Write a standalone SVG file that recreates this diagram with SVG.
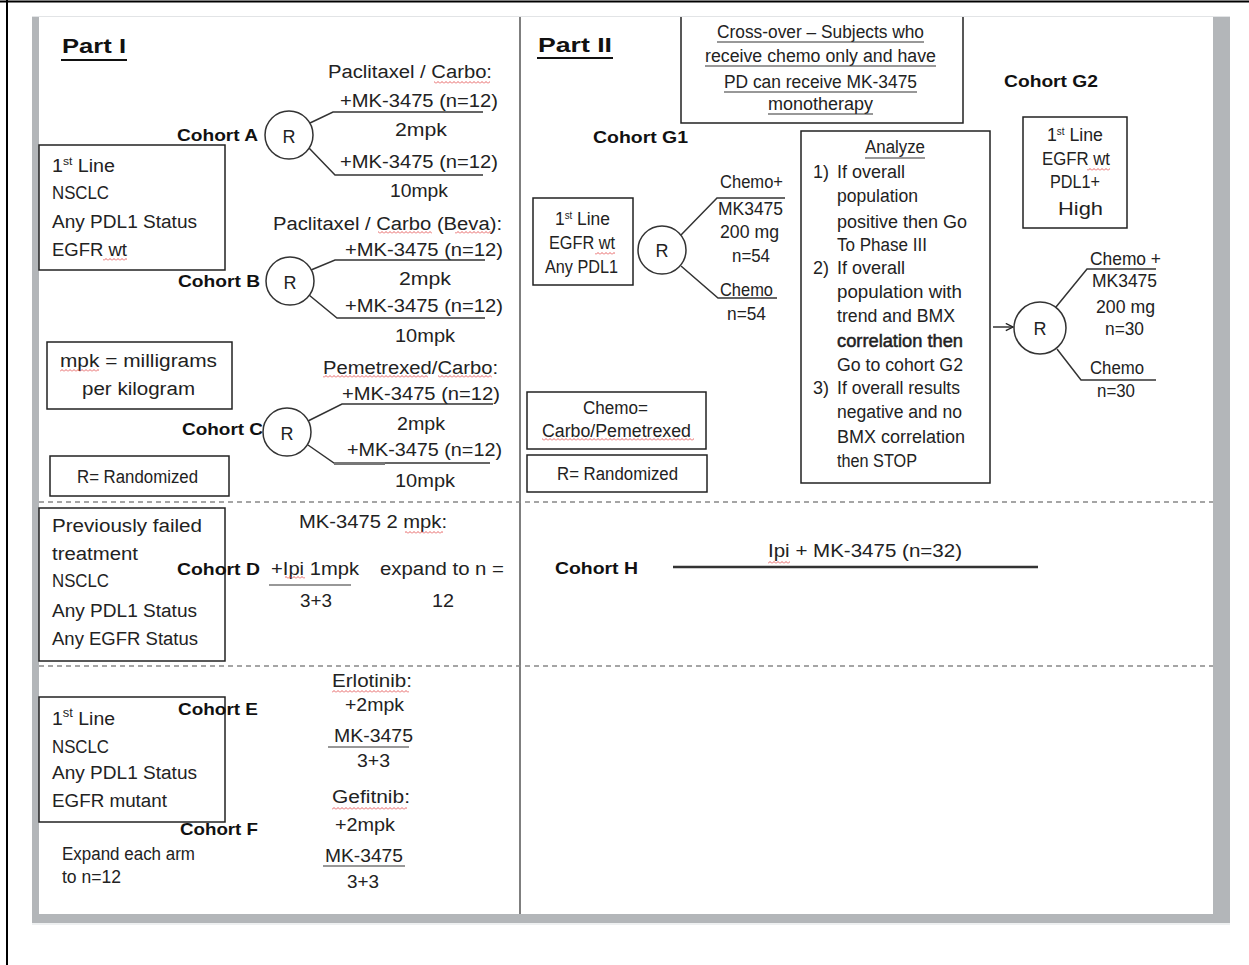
<svg xmlns="http://www.w3.org/2000/svg" width="1249" height="965" viewBox="0 0 1249 965">
<style>
.t{font-family:"Liberation Sans",Arial,sans-serif;font-size:18px;fill:#222}
.b{font-weight:bold;font-size:17px;fill:#111}
.h{font-weight:bold;font-size:21px;fill:#111}
.c{text-anchor:middle}
.ln{stroke:#333;stroke-width:1.5;fill:none}
.ul{stroke:#333;stroke-width:1.2;fill:none}
.box{fill:#fff;stroke:#222;stroke-width:1.5}
.rc{fill:#fff;stroke:#333;stroke-width:1.5}
.wv{fill:url(#wave)}
.dash{stroke:#888;stroke-width:1.5;stroke-dasharray:5 4;fill:none}
</style>
<defs>
<pattern id="wave" width="4" height="3" patternUnits="userSpaceOnUse"><path d="M0,2.5 L2,0.5 L4,2.5" fill="none" stroke="#e03a3a" stroke-width="0.8"/></pattern>
<marker id="arr" viewBox="0 0 10 10" refX="9" refY="5" markerWidth="9" markerHeight="9" orient="auto" markerUnits="userSpaceOnUse"><path d="M1,1 L9,5 L1,9" fill="none" stroke="#222" stroke-width="1.5"/></marker>
</defs>
<rect width="1249" height="965" fill="#fff"/>
<g id="frame">
<line x1="0" y1="1.5" x2="1249" y2="1.5" stroke="#000" stroke-width="2"/>
<line x1="7" y1="0" x2="7" y2="965" stroke="#000" stroke-width="2"/>
<rect x="32" y="16" width="1198" height="909" fill="#eef0f1"/>
<rect x="32" y="16" width="1198" height="907" fill="#b3b6b9"/>
<rect x="39" y="17" width="1174" height="897" fill="#fff"/>
<line x1="32" y1="16.5" x2="1230" y2="16.5" stroke="#e2e4e6" stroke-width="1"/>
<line x1="520" y1="17" x2="520" y2="914" stroke="#555" stroke-width="1.5"/>
<line class="dash" x1="39" y1="502" x2="1213" y2="502"/>
<line class="dash" x1="39" y1="666" x2="1213" y2="666"/>
</g>
<g id="connectors">
<polyline class="ln" points="310,123 333,112 483,112"/>
<polyline class="ln" points="309,148 335,175 483,175"/>
<polyline class="ln" points="311,270 335,260 485,260"/>
<polyline class="ln" points="309,295 337,318 485,318"/>
<polyline class="ln" points="308,421 342,404 493,404"/>
<polyline class="ln" points="308,445 334,463 490,463"/>
<line x1="334" y1="463.5" x2="385" y2="463.5" stroke="#777" stroke-width="3"/>
<polyline class="ln" points="681,235 717,198 785,198"/>
<polyline class="ln" points="681,266 718,298 777,298"/>
<line class="ln" x1="993" y1="327" x2="1013" y2="327" marker-end="url(#arr)"/>
<polyline class="ln" points="1056,307 1087,269 1156,269"/>
<polyline class="ln" points="1057,349 1081,380 1156,380"/>
<line x1="673" y1="567" x2="1038" y2="567" stroke="#333" stroke-width="2.5"/>
<line class="ul" x1="269" y1="585" x2="351" y2="585"/>
<line class="ul" x1="328" y1="747" x2="409" y2="747"/>
<line class="ul" x1="323" y1="866" x2="405" y2="866"/>
</g>
<g id="part1-title">
<text class="t h" x="62" y="53" textLength="64" lengthAdjust="spacingAndGlyphs">Part I</text>
<line x1="61" y1="60" x2="127" y2="60" stroke="#111" stroke-width="1.8"/>
</g>
<g id="cohortA">
<text class="t" x="328" y="78" textLength="164" lengthAdjust="spacingAndGlyphs">Paclitaxel / Carbo:</text>
<rect class="wv" x="434" y="81" width="56" height="3"/>
<text class="t" x="340" y="107" textLength="158" lengthAdjust="spacingAndGlyphs">+MK-3475  (n=12)</text>
<text class="t" x="395" y="136" textLength="52" lengthAdjust="spacingAndGlyphs">2mpk</text>
<text class="t" x="340" y="168" textLength="158" lengthAdjust="spacingAndGlyphs">+MK-3475  (n=12)</text>
<text class="t" x="390" y="197" textLength="58" lengthAdjust="spacingAndGlyphs">10mpk</text>
<text class="t b" x="177" y="141" textLength="81" lengthAdjust="spacingAndGlyphs">Cohort A</text>
<circle class="rc" cx="289" cy="135" r="24"/>
<text class="t" x="289" y="143" text-anchor="middle" font-size="22">R</text>
</g>
<g id="boxA">
<rect class="box" x="39" y="145" width="186" height="125"/>
<text class="t" x="52" y="172" textLength="63" lengthAdjust="spacingAndGlyphs">1<tspan font-size="11" dy="-7">st</tspan><tspan dy="7"> Line</tspan></text>
<text class="t" x="52" y="199" textLength="57" lengthAdjust="spacingAndGlyphs">NSCLC</text>
<text class="t" x="52" y="228" textLength="145" lengthAdjust="spacingAndGlyphs">Any PDL1 Status</text>
<text class="t" x="52" y="256" textLength="75" lengthAdjust="spacingAndGlyphs">EGFR wt</text>
<rect class="wv" x="103" y="258" width="24" height="3"/>
</g>
<g id="cohortB">
<text class="t" x="273" y="230" textLength="229" lengthAdjust="spacingAndGlyphs">Paclitaxel / Carbo (Beva):</text>
<rect class="wv" x="378" y="231" width="54" height="3"/>
<rect class="wv" x="455" y="231" width="37" height="3"/>
<text class="t" x="345" y="256" textLength="158" lengthAdjust="spacingAndGlyphs">+MK-3475  (n=12)</text>
<text class="t" x="399" y="285" textLength="52" lengthAdjust="spacingAndGlyphs">2mpk</text>
<text class="t" x="345" y="312" textLength="158" lengthAdjust="spacingAndGlyphs">+MK-3475  (n=12)</text>
<text class="t" x="395" y="342" font-size="20" textLength="60" lengthAdjust="spacingAndGlyphs">10mpk</text>
<text class="t b" x="178" y="287" textLength="82" lengthAdjust="spacingAndGlyphs">Cohort B</text>
<circle class="rc" cx="290" cy="281" r="24"/>
<text class="t" x="290" y="289" text-anchor="middle" font-size="22">R</text>
</g>
<g id="mpk-box">
<rect class="box" x="47" y="342" width="185" height="67"/>
<text class="t" x="60" y="367" textLength="157" lengthAdjust="spacingAndGlyphs">mpk  = milligrams</text>
<rect class="wv" x="60" y="369" width="39" height="3"/>
<text class="t" x="82" y="395" textLength="113" lengthAdjust="spacingAndGlyphs">per kilogram</text>
</g>
<g id="cohortC">
<text class="t" x="323" y="374" textLength="175" lengthAdjust="spacingAndGlyphs">Pemetrexed/Carbo:</text>
<rect class="wv" x="323" y="375" width="105" height="3"/>
<rect class="wv" x="438" y="375" width="54" height="3"/>
<text class="t" x="342" y="400" textLength="158" lengthAdjust="spacingAndGlyphs">+MK-3475  (n=12)</text>
<text class="t" x="397" y="430" textLength="48" lengthAdjust="spacingAndGlyphs">2mpk</text>
<text class="t" x="347" y="456" textLength="155" lengthAdjust="spacingAndGlyphs">+MK-3475  (n=12)</text>
<text class="t" x="395" y="487" textLength="60" lengthAdjust="spacingAndGlyphs">10mpk</text>
<text class="t b" x="182" y="435" textLength="81" lengthAdjust="spacingAndGlyphs">Cohort C</text>
<circle class="rc" cx="287" cy="432" r="24"/>
<text class="t" x="287" y="440" text-anchor="middle" font-size="22">R</text>
</g>
<g id="r-box1">
<rect class="box" x="50" y="456" width="179" height="40"/>
<text class="t" x="77" y="483" textLength="121" lengthAdjust="spacingAndGlyphs">R= Randomized</text>
</g>
<g id="boxD">
<rect class="box" x="39" y="508" width="186" height="153"/>
<text class="t" x="52" y="532" textLength="150" lengthAdjust="spacingAndGlyphs">Previously failed</text>
<text class="t" x="52" y="560" textLength="86" lengthAdjust="spacingAndGlyphs">treatment</text>
<text class="t" x="52" y="587" textLength="57" lengthAdjust="spacingAndGlyphs">NSCLC</text>
<text class="t" x="52" y="617" textLength="145" lengthAdjust="spacingAndGlyphs">Any PDL1 Status</text>
<text class="t" x="52" y="645" textLength="146" lengthAdjust="spacingAndGlyphs">Any EGFR Status</text>
</g>
<g id="cohortD">
<text class="t" x="299" y="528" textLength="148" lengthAdjust="spacingAndGlyphs">MK-3475  2 mpk:</text>
<rect class="wv" x="405" y="531" width="38" height="3"/>
<text class="t b" x="177" y="575" textLength="83" lengthAdjust="spacingAndGlyphs">Cohort D</text>
<text class="t" x="271" y="575" textLength="88" lengthAdjust="spacingAndGlyphs">+Ipi 1mpk</text>
<rect class="wv" x="285" y="576" width="20" height="3"/>
<text class="t" x="300" y="607" textLength="32" lengthAdjust="spacingAndGlyphs">3+3</text>
<text class="t" x="380" y="575" textLength="124" lengthAdjust="spacingAndGlyphs">expand to n =</text>
<text class="t" x="432" y="607" textLength="22" lengthAdjust="spacingAndGlyphs">12</text>
</g>
<g id="boxE">
<rect class="box" x="39" y="697" width="186" height="125"/>
<text class="t" x="52" y="725" font-size="21" textLength="63" lengthAdjust="spacingAndGlyphs">1<tspan font-size="12" dy="-8">st</tspan><tspan dy="8"> Line</tspan></text>
<text class="t" x="52" y="753" textLength="57" lengthAdjust="spacingAndGlyphs">NSCLC</text>
<text class="t" x="52" y="779" textLength="145" lengthAdjust="spacingAndGlyphs">Any PDL1 Status</text>
<text class="t" x="52" y="807" textLength="115" lengthAdjust="spacingAndGlyphs">EGFR mutant</text>
</g>
<g id="cohortEF">
<text class="t b" x="178" y="715" textLength="80" lengthAdjust="spacingAndGlyphs">Cohort E</text>
<text class="t b" x="180" y="835" textLength="78" lengthAdjust="spacingAndGlyphs">Cohort F</text>
<text class="t" x="332" y="687" textLength="80" lengthAdjust="spacingAndGlyphs">Erlotinib:</text>
<rect class="wv" x="332" y="690" width="77" height="3"/>
<text class="t" x="345" y="711" textLength="59" lengthAdjust="spacingAndGlyphs">+2mpk</text>
<text class="t" x="334" y="742" textLength="79" lengthAdjust="spacingAndGlyphs">MK-3475</text>
<text class="t" x="357" y="767" textLength="33" lengthAdjust="spacingAndGlyphs">3+3</text>
<text class="t" x="332" y="803" textLength="78" lengthAdjust="spacingAndGlyphs">Gefitnib:</text>
<rect class="wv" x="332" y="807" width="75" height="3"/>
<text class="t" x="335" y="831" textLength="60" lengthAdjust="spacingAndGlyphs">+2mpk</text>
<text class="t" x="325" y="862" textLength="78" lengthAdjust="spacingAndGlyphs">MK-3475</text>
<text class="t" x="347" y="888" textLength="32" lengthAdjust="spacingAndGlyphs">3+3</text>
<text class="t" x="62" y="860" font-size="20" textLength="133" lengthAdjust="spacingAndGlyphs">Expand each arm</text>
<text class="t" x="62" y="883" font-size="17" textLength="59" lengthAdjust="spacingAndGlyphs">to n=12</text>
</g>
<g id="part2-title">
<text class="t h" x="538" y="52" textLength="74" lengthAdjust="spacingAndGlyphs">Part II</text>
<line x1="537" y1="58" x2="613" y2="58" stroke="#111" stroke-width="1.8"/>
</g>
<g id="crossover">
<path d="M681,17 V123 H963 V17" fill="#fff" stroke="#222" stroke-width="1.5"/>
<text class="t" x="717" y="38" font-size="17" textLength="207" lengthAdjust="spacingAndGlyphs">Cross-over  – Subjects who</text>
<line class="ul" x1="717" y1="42" x2="924" y2="42"/>
<text class="t" x="705" y="62" font-size="17" textLength="231" lengthAdjust="spacingAndGlyphs">receive chemo only and have</text>
<line class="ul" x1="705" y1="66" x2="936" y2="66"/>
<text class="t" x="724" y="88" font-size="20" textLength="193" lengthAdjust="spacingAndGlyphs">PD can receive MK-3475</text>
<line class="ul" x1="724" y1="92" x2="917" y2="92"/>
<text class="t" x="768" y="110" font-size="17" textLength="105" lengthAdjust="spacingAndGlyphs">monotherapy</text>
<line class="ul" x1="768" y1="114" x2="873" y2="114"/>
</g>
<g id="cohortG1">
<text class="t b" x="593" y="143" textLength="95" lengthAdjust="spacingAndGlyphs">Cohort G1</text>
<rect class="box" x="533" y="198" width="100" height="87"/>
<text class="t" x="555" y="225" font-size="17" textLength="55" lengthAdjust="spacingAndGlyphs">1<tspan font-size="10" dy="-6">st</tspan><tspan dy="6"> Line</tspan></text>
<text class="t" x="549" y="249" font-size="17" textLength="66" lengthAdjust="spacingAndGlyphs">EGFR wt</text>
<rect class="wv" x="595" y="252" width="20" height="3"/>
<text class="t" x="545" y="273" font-size="17" textLength="73" lengthAdjust="spacingAndGlyphs">Any PDL1</text>
<circle class="rc" cx="662" cy="250" r="24"/>
<text class="t" x="662" y="257" text-anchor="middle" font-size="19">R</text>
<text class="t" x="720" y="188" font-size="17" textLength="63" lengthAdjust="spacingAndGlyphs">Chemo+</text>
<text class="t" x="718" y="215" font-size="20" textLength="65" lengthAdjust="spacingAndGlyphs">MK3475</text>
<text class="t" x="720" y="238" font-size="17" textLength="59" lengthAdjust="spacingAndGlyphs">200 mg</text>
<text class="t" x="732" y="262" font-size="17" textLength="38" lengthAdjust="spacingAndGlyphs">n=54</text>
<text class="t" x="720" y="296" font-size="17" textLength="53" lengthAdjust="spacingAndGlyphs">Chemo</text>
<text class="t" x="727" y="320" font-size="17" textLength="39" lengthAdjust="spacingAndGlyphs">n=54</text>
</g>
<g id="chemo-box">
<rect class="box" x="527" y="392" width="179" height="57"/>
<text class="t" x="583" y="414" font-size="17" textLength="65" lengthAdjust="spacingAndGlyphs">Chemo=</text>
<text class="t" x="542" y="437" font-size="17" textLength="149" lengthAdjust="spacingAndGlyphs">Carbo/Pemetrexed</text>
<rect class="wv" x="542" y="438" width="152" height="3"/>
</g>
<g id="r-box2">
<rect class="box" x="527" y="455" width="180" height="37"/>
<text class="t" x="557" y="480" font-size="17" textLength="121" lengthAdjust="spacingAndGlyphs">R= Randomized</text>
</g>
<g id="analyze">
<rect class="box" x="801" y="131" width="189" height="352"/>
<text class="t" x="865" y="153" font-size="17" textLength="60" lengthAdjust="spacingAndGlyphs">Analyze</text>
<line class="ul" x1="865" y1="158" x2="925" y2="158"/>
<text class="t" x="813" y="178" font-size="17">1)</text>
<text class="t" x="837" y="178" font-size="17" textLength="68" lengthAdjust="spacingAndGlyphs">If overall</text>
<text class="t" x="837" y="202" font-size="17" textLength="81" lengthAdjust="spacingAndGlyphs">population</text>
<text class="t" x="837" y="228" font-size="17" textLength="130" lengthAdjust="spacingAndGlyphs">positive then Go</text>
<text class="t" x="837" y="251" font-size="17" textLength="90" lengthAdjust="spacingAndGlyphs">To Phase III</text>
<text class="t" x="813" y="274" font-size="17">2)</text>
<text class="t" x="837" y="274" font-size="17" textLength="68" lengthAdjust="spacingAndGlyphs">If overall</text>
<text class="t" x="837" y="298" font-size="17" textLength="125" lengthAdjust="spacingAndGlyphs">population  with</text>
<text class="t" x="837" y="322" font-size="17" textLength="118" lengthAdjust="spacingAndGlyphs">trend and BMX</text>
<text class="t" x="837" y="347" font-size="18" textLength="126" lengthAdjust="spacingAndGlyphs" fill="#111" stroke="#222" stroke-width="0.5">correlation then</text>
<text class="t" x="837" y="371" font-size="17" textLength="126" lengthAdjust="spacingAndGlyphs">Go to cohort G2</text>
<text class="t" x="813" y="394" font-size="17">3)</text>
<text class="t" x="837" y="394" font-size="17" textLength="123" lengthAdjust="spacingAndGlyphs">If overall results</text>
<text class="t" x="837" y="418" font-size="17" textLength="125" lengthAdjust="spacingAndGlyphs">negative and no</text>
<text class="t" x="837" y="443" font-size="17" textLength="128" lengthAdjust="spacingAndGlyphs">BMX correlation</text>
<text class="t" x="837" y="467" font-size="17" textLength="80" lengthAdjust="spacingAndGlyphs">then STOP</text>
</g>
<g id="cohortG2">
<text class="t b" x="1004" y="87" textLength="94" lengthAdjust="spacingAndGlyphs">Cohort G2</text>
<rect class="box" x="1023" y="117" width="104" height="111"/>
<text class="t" x="1047" y="141" font-size="17" textLength="56" lengthAdjust="spacingAndGlyphs">1<tspan font-size="10" dy="-6">st</tspan><tspan dy="6"> Line</tspan></text>
<text class="t" x="1042" y="165" font-size="17" textLength="68" lengthAdjust="spacingAndGlyphs">EGFR wt</text>
<rect class="wv" x="1087" y="168" width="23" height="3"/>
<text class="t" x="1050" y="188" font-size="17" textLength="50" lengthAdjust="spacingAndGlyphs">PDL1+</text>
<text class="t" x="1058" y="215" font-size="21" textLength="45" lengthAdjust="spacingAndGlyphs">High</text>
<circle class="rc" cx="1040" cy="328" r="26"/>
<text class="t" x="1040" y="335" text-anchor="middle" font-size="19">R</text>
<text class="t" x="1090" y="265" font-size="17" textLength="71" lengthAdjust="spacingAndGlyphs">Chemo +</text>
<text class="t" x="1092" y="287" font-size="17" textLength="65" lengthAdjust="spacingAndGlyphs">MK3475</text>
<text class="t" x="1096" y="313" font-size="17" textLength="59" lengthAdjust="spacingAndGlyphs">200 mg</text>
<text class="t" x="1105" y="335" font-size="17" textLength="39" lengthAdjust="spacingAndGlyphs">n=30</text>
<text class="t" x="1090" y="374" font-size="17" textLength="54" lengthAdjust="spacingAndGlyphs">Chemo</text>
<text class="t" x="1097" y="397" font-size="17" textLength="38" lengthAdjust="spacingAndGlyphs">n=30</text>
</g>
<g id="cohortH">
<text class="t b" x="555" y="574" textLength="83" lengthAdjust="spacingAndGlyphs">Cohort H</text>
<text class="t" x="768" y="557" textLength="194" lengthAdjust="spacingAndGlyphs">Ipi + MK-3475  (n=32)</text>
<rect class="wv" x="768" y="561" width="22" height="3"/>
</g>
</svg>
